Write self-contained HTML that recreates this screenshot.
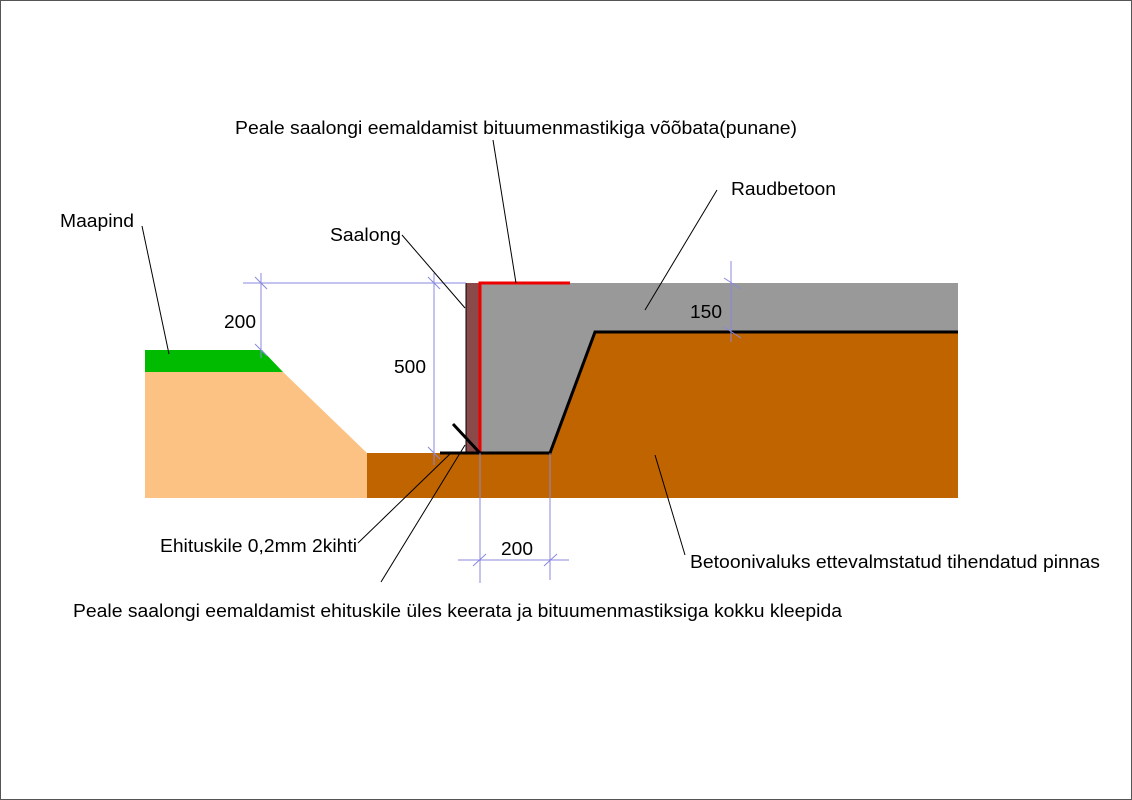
<!DOCTYPE html>
<html><head><meta charset="utf-8"><style>
html,body{margin:0;padding:0;background:#fff}
svg{display:block}
text{font-family:"Liberation Sans",sans-serif;font-size:18px;fill:#000}
</style></head><body>
<svg width="1132" height="800" viewBox="0 0 1132 800" xmlns="http://www.w3.org/2000/svg">
<rect x="0.5" y="0.5" width="1131" height="799" fill="#fff" stroke="#555" stroke-width="1"/>
<polygon points="145,372 283,372 367,453 367,498 145,498" fill="#fcc284"/>
<polygon points="145,350 262,350 283,372 145,372" fill="#00bb00"/>
<rect x="367" y="453" width="591" height="45" fill="#c06400"/>
<polygon points="480,283 958,283 958,332 595,332 550,453 480,453" fill="#999"/>
<polygon points="595,332 958,332 958,453 550,453" fill="#c06400"/>
<rect x="466" y="283" width="14" height="170" fill="#8b4a4a"/>
<line x1="466" y1="283" x2="466" y2="453" stroke="#000" stroke-width="1"/>
<polyline points="480,453 480,283 570,283" fill="none" stroke="#e00" stroke-width="3"/>
<polyline points="440,453 550,453 595,332 958,332" fill="none" stroke="#000" stroke-width="3"/>
<line x1="453" y1="424" x2="479" y2="452" stroke="#000" stroke-width="3"/>
<g stroke="#8888dd" stroke-width="1" fill="none">
<line x1="243" y1="283" x2="466" y2="283"/>
<line x1="261" y1="273" x2="261" y2="358"/>
<line x1="255" y1="277" x2="267" y2="289"/>
<line x1="255" y1="344" x2="267" y2="356"/>
<line x1="434" y1="273" x2="434" y2="465"/>
<line x1="428" y1="277" x2="440" y2="289"/>
<line x1="428" y1="447" x2="440" y2="459"/>
<line x1="480" y1="453" x2="480" y2="583"/>
<line x1="550" y1="453" x2="550" y2="580"/>
<line x1="458" y1="560" x2="569" y2="560"/>
<line x1="473" y1="566" x2="486" y2="554"/>
<line x1="544" y1="566" x2="557" y2="554"/>
<line x1="731" y1="261" x2="731" y2="342"/>
<line x1="724" y1="278" x2="741" y2="289"/>
<line x1="724" y1="327" x2="741" y2="338"/>
</g>
<g stroke="#000" stroke-width="1">
<line x1="142" y1="226" x2="169" y2="354"/>
<line x1="402" y1="235" x2="465" y2="308"/>
<line x1="493" y1="140" x2="516" y2="283"/>
<line x1="717" y1="190" x2="645" y2="310"/>
<line x1="358" y1="543" x2="451" y2="453"/>
<line x1="381" y1="582" x2="465" y2="445"/>
<line x1="655" y1="455" x2="685" y2="555"/>
</g>
<text x="235" y="134" textLength="562" lengthAdjust="spacingAndGlyphs">Peale saalongi eemaldamist bituumenmastikiga võõbata(punane)</text>
<text x="731" y="195" textLength="105" lengthAdjust="spacingAndGlyphs">Raudbetoon</text>
<text x="60" y="227" textLength="74" lengthAdjust="spacingAndGlyphs">Maapind</text>
<text x="330" y="241" textLength="71" lengthAdjust="spacingAndGlyphs">Saalong</text>
<text x="224" y="328" textLength="32" lengthAdjust="spacingAndGlyphs">200</text>
<text x="394" y="373" textLength="32" lengthAdjust="spacingAndGlyphs">500</text>
<text x="690" y="318" textLength="32" lengthAdjust="spacingAndGlyphs">150</text>
<text x="160" y="552" textLength="197" lengthAdjust="spacingAndGlyphs">Ehituskile 0,2mm 2kihti</text>
<text x="501" y="555" textLength="32" lengthAdjust="spacingAndGlyphs">200</text>
<text x="690" y="568" textLength="410" lengthAdjust="spacingAndGlyphs">Betoonivaluks ettevalmstatud tihendatud pinnas</text>
<text x="73" y="617" textLength="769" lengthAdjust="spacingAndGlyphs">Peale saalongi eemaldamist ehituskile üles keerata ja bituumenmastiksiga kokku kleepida</text>
</svg>
</body></html>
